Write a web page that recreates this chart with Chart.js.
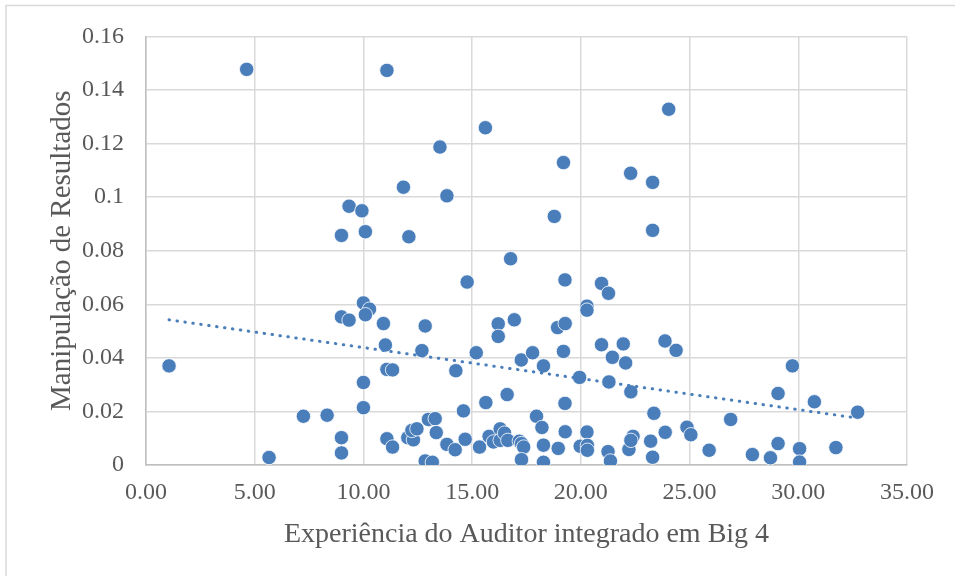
<!DOCTYPE html>
<html>
<head>
<meta charset="utf-8">
<script src="https://cdn.jsdelivr.net/npm/chart.js@4.4.1/dist/chart.umd.min.js"></script>
<style>
  html, body { margin: 0; padding: 0; background: #fff; }
  #wrap { width: 955px; height: 576px; position: relative; }
</style>
</head>
<body>
<div id="wrap"><canvas id="chartCanvas" width="955" height="576"></canvas></div>
<script>
// Experiência do Auditor (anos) e Manipulação de Resultados
const expX = [
  1.06, 4.63, 5.66, 7.24, 8.33, 8.99, 8.99, 8.99, 8.99, 9.34,
  9.34, 9.93, 10.00, 10.28, 10.09, 10.09, 10.00, 10.00, 10.92, 11.01,
  11.08, 11.08, 11.34, 11.08, 11.34, 11.84, 12.04, 12.09, 12.30, 12.23,
  12.46, 12.69, 12.84, 12.84, 12.99, 13.30, 13.35, 13.17, 13.52, 13.84,
  13.84, 14.22, 14.25, 14.60, 14.68, 14.77, 15.19, 15.34, 15.61, 15.63,
  15.78, 15.98, 16.20, 16.20, 16.29, 16.29, 16.49, 16.61, 16.64, 16.77,
  16.94, 17.17, 17.26, 17.27, 17.37, 17.27, 17.78, 17.96, 18.21, 18.28,
  18.28, 18.28, 18.78, 18.93, 18.96, 19.20, 19.27, 19.28, 19.20, 19.27,
  19.28, 19.94, 19.97, 20.28, 20.28, 20.28, 20.30, 20.30, 20.95, 20.95,
  21.25, 21.27, 21.29, 21.36, 21.45, 21.95, 22.06, 22.21, 22.29, 22.30,
  22.40, 22.30, 23.21, 23.30, 23.30, 23.30, 23.36, 23.87, 23.88, 24.04,
  24.38, 24.88, 25.06, 25.90, 26.89, 27.89, 28.72, 29.07, 29.07, 29.73,
  30.06, 30.06, 30.74, 31.73, 32.73
];
const manip = [
  0.0370, 0.1477, 0.0028, 0.0182, 0.0186, 0.0857, 0.0553, 0.0102, 0.0045, 0.0966,
  0.0541, 0.0949, 0.0605, 0.0582, 0.0561, 0.0871, 0.0308, 0.0214, 0.0528, 0.0448,
  0.1473, 0.0357, 0.0355, 0.0098, 0.0067, 0.1037, 0.0102, 0.0852, 0.0094, 0.0129,
  0.0135, 0.0427, 0.0519, 0.0015, 0.0170, 0.0173, 0.0121, 0.0010, 0.1187, 0.1005,
  0.0077, 0.0057, 0.0352, 0.0202, 0.0096, 0.0683, 0.0419, 0.0067, 0.1259, 0.0233,
  0.0107, 0.0086, 0.0527, 0.0480, 0.0135, 0.0092, 0.0119, 0.0263, 0.0092, 0.0770,
  0.0542, 0.0089, 0.0392, 0.0080, 0.0067, 0.0020, 0.0419, 0.0182, 0.0140, 0.0370,
  0.0074, 0.0010, 0.0928, 0.0513, 0.0062, 0.1129, 0.0691, 0.0528, 0.0424, 0.0230,
  0.0124, 0.0327, 0.0070, 0.0593, 0.0578, 0.0123, 0.0073, 0.0055, 0.0678, 0.0449,
  0.0050, 0.0641, 0.0310, 0.0015, 0.0402, 0.0452, 0.0381, 0.0058, 0.1089, 0.0273,
  0.0107, 0.0092, 0.0089, 0.1055, 0.0876, 0.0029, 0.0193, 0.0463, 0.0122, 0.1328,
  0.0428, 0.0141, 0.0113, 0.0055, 0.0170, 0.0039, 0.0027, 0.0267, 0.0080, 0.0370,
  0.0061, 0.0011, 0.0236, 0.0065, 0.0197
];
// linha de tendência (extremos)
const trendX = [1.06, 32.73];
const trendY = [0.0542, 0.0175];

const xTicks = [0, 5, 10, 15, 20, 25, 30, 35];
const yTicks = [0, 0.02, 0.04, 0.06, 0.08, 0.1, 0.12, 0.14, 0.16];

const pts = expX.map((x, i) => ({ x: x, y: manip[i] }));
const trend = trendX.map((x, i) => ({ x: x, y: trendY[i] }));

const textColor = '#595959';
const gridColor = '#d9d9d9';

const framePlugin = {
  id: 'frame',
  beforeDraw(chart) {
    const c = chart.ctx;
    c.save();
    c.strokeStyle = '#d9d9d9';
    c.lineWidth = 1.5;
    c.beginPath();
    c.moveTo(6, 576);
    c.lineTo(6, 5.5);
    c.lineTo(955, 5.5);
    c.stroke();
    c.restore();
  }
};

new Chart(document.getElementById('chartCanvas').getContext('2d'), {
  type: 'scatter',
  data: {
    datasets: [
      {
        type: 'line',
        label: 'Tendência',
        data: trend,
        borderColor: '#4a7ebb',
        borderWidth: 3,
        borderDash: [0.5, 7.5],
        borderCapStyle: 'round',
        pointRadius: 0,
        fill: false,
        order: 0
      },
      {
        label: 'Manipulação de Resultados',
        data: pts,
        backgroundColor: '#4a7ebb',
        borderColor: '#ffffff',
        borderWidth: 0.8,
        pointRadius: 7.2,
        order: 1
      }
    ]
  },
  options: {
    responsive: false,
    animation: false,
    layout: { padding: { top: 35, right: 48, bottom: 0, left: 0 } },
    plugins: {
      legend: { display: false },
      tooltip: { enabled: false }
    },
    scales: {
      x: {
        type: 'linear',
        min: 0,
        max: 35,
        afterBuildTicks: s => { s.ticks = xTicks.map(v => ({ value: v })); },
        afterFit: s => { s.height = 111; },
        ticks: {
          callback: v => v.toFixed(2),
          color: textColor,
          font: { family: 'Liberation Serif', size: 24 },
          padding: 13,
          maxRotation: 0
        },
        grid: { color: gridColor, lineWidth: 1.5, drawTicks: false },
        border: { color: '#bfbfbf', width: 1.5 },
        title: {
          display: true,
          text: 'Experiência do Auditor integrado em Big 4',
          color: textColor,
          font: { family: 'Liberation Serif', size: 28 },
          padding: { top: 0, bottom: 25 }
        }
      },
      y: {
        type: 'linear',
        min: 0,
        max: 0.16,
        afterBuildTicks: s => { s.ticks = yTicks.map(v => ({ value: v })); },
        afterFit: s => { s.width = 146; },
        ticks: {
          callback: v => String(Number(v.toFixed(2))),
          color: textColor,
          font: { family: 'Liberation Serif', size: 24 },
          padding: 22
        },
        grid: { color: gridColor, lineWidth: 1.5, drawTicks: false },
        border: { color: '#bfbfbf', width: 1.5 },
        title: {
          display: true,
          text: 'Manipulação de Resultados',
          color: textColor,
          font: { family: 'Liberation Serif', size: 29 },
          padding: { top: 45, bottom: 0 }
        }
      }
    }
  },
  plugins: [framePlugin]
});
</script>
</body>
</html>
